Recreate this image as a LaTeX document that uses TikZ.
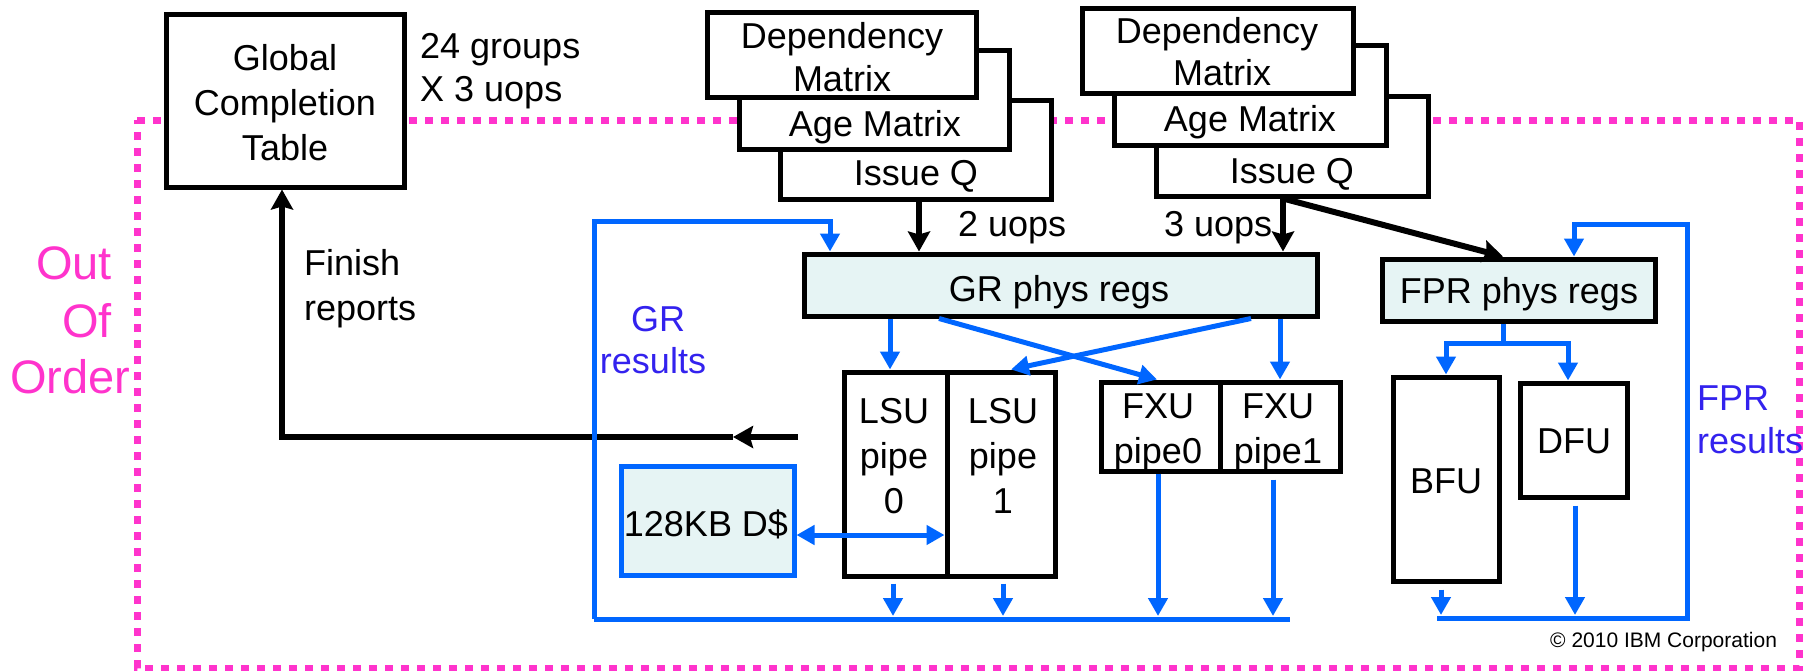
\documentclass[tikz,border=0pt]{standalone}
\usepackage{fontspec}
\setmainfont{Liberation Sans}
\usetikzlibrary{arrows.meta}
\definecolor{pinkc}{RGB}{255,51,204}
\definecolor{bluec}{RGB}{0,102,255}
\definecolor{violetc}{RGB}{51,34,238}
\definecolor{cyanfill}{RGB}{230,244,244}
\begin{document}
\begin{tikzpicture}[x=1pt,y=-1pt,
  blk/.style={draw=black, line width=5pt, fill=white, inner sep=0pt},
  regbox/.style={blk, fill=cyanfill},
  txt/.style={font=\fontsize{36}{43}\selectfont, inner sep=0pt, anchor=base},
  ltxt/.style={txt, anchor=base west},
  kline/.style={line width=6pt, draw=black},
  karrow/.style={kline, -{Stealth[width=22pt,length=20pt,inset=3pt]}},
  bline/.style={line width=5pt, draw=bluec},
  barrow/.style={bline, -{Triangle[width=19pt,length=18pt]}},
  pinkdot/.style={draw=pinkc, line width=7pt, dash pattern=on 8pt off 8pt},
]
\useasboundingbox (0,0) rectangle (1808,670);

% out-of-order frame
\draw[pinkdot] (137,120) -- (1799,120) -- (1799,668) -- (137,668) -- cycle;
\node[font=\fontsize{47}{56}\selectfont, text=pinkc, inner sep=0pt, anchor=base east] (ooo1) at (112,279) {Out};
\node[font=\fontsize{47}{56}\selectfont, text=pinkc, inner sep=0pt, anchor=base east] (ooo2) at (112,337) {Of};
\node[font=\fontsize{47}{56}\selectfont, text=pinkc, inner sep=0pt, anchor=base west] (ooo3) at (10,393) {Order};

% global completion table
\node[blk, minimum width=238pt, minimum height=173pt] (gct) at (285,100.5) {};
\node[txt] (gct1) at (285,70) {Global};
\node[txt] (gct2) at (285,115) {Completion};
\node[txt] (gct3) at (285,160) {Table};
\node[ltxt] (grp1) at (420,58) {24 groups};
\node[ltxt] (grp2) at (420,101) {X 3 uops};

% left issue stack
\node[blk, minimum width=271pt, minimum height=99pt] (lq) at (915.5,149.5) {};
\node[txt] (lqt) at (916,185) {Issue Q};
\node[blk, minimum width=270pt, minimum height=99pt] (lage) at (874,99.5) {};
\node[txt] (lage t) at (875,136) {Age Matrix};
\node[blk, minimum width=269pt, minimum height=85pt] (ldep) at (841.5,54.5) {};
\node[txt] (ldep1) at (842,48) {Dependency};
\node[txt] (ldep2) at (842,91) {Matrix};

% right issue stack
\node[blk, minimum width=272pt, minimum height=100pt] (rq) at (1292,146) {};
\node[txt] (rqt) at (1292,183) {Issue Q};
\node[blk, minimum width=272pt, minimum height=100pt] (rage) at (1250,95) {};
\node[txt] (raget) at (1250,131) {Age Matrix};
\node[blk, minimum width=271pt, minimum height=85pt] (rdep) at (1217.5,50.5) {};
\node[txt] (rdep1) at (1217,43) {Dependency};
\node[txt] (rdep2) at (1222,85) {Matrix};

\node[ltxt] (u2) at (958,236) {2 uops};
\node[ltxt] (u3) at (1164,236) {3 uops};

% register files
\node[regbox, minimum width=513pt, minimum height=62pt] (gr) at (1060.5,285) {};
\node[txt] (grt) at (1059,301) {GR phys regs};
\node[regbox, minimum width=273pt, minimum height=62pt] (fpr) at (1518.5,290) {};
\node[txt] (fprt) at (1519,303) {FPR phys regs};

% execution units
\node[blk, minimum width=103pt, minimum height=204pt] (lsu0) at (895.5,474) {};
\node[blk, minimum width=108pt, minimum height=204pt] (lsu1) at (1001,474) {};
\node[txt] (lsu0a) at (894,423) {LSU};
\node[txt] (lsu0b) at (894,468) {pipe};
\node[txt] (lsu0c) at (894,513) {0};
\node[txt] (lsu1a) at (1003,423) {LSU};
\node[txt] (lsu1b) at (1003,468) {pipe};
\node[txt] (lsu1c) at (1003,513) {1};
\node[blk, minimum width=119pt, minimum height=89pt] (fxu0) at (1160.5,426.5) {};
\node[blk, minimum width=120pt, minimum height=89pt] (fxu1) at (1280,426.5) {};
\node[txt] (fxu0a) at (1158,418) {FXU};
\node[txt] (fxu0b) at (1158,463) {pipe0};
\node[txt] (fxu1a) at (1278,418) {FXU};
\node[txt] (fxu1b) at (1278,463) {pipe1};
\node[draw=bluec, line width=5pt, fill=cyanfill, inner sep=0pt, minimum width=173pt, minimum height=109pt] (dc) at (707.5,520.5) {};
\node[txt] (dct) at (706,536) {128KB D\$};
\node[blk, minimum width=106pt, minimum height=204pt] (bfu) at (1446,479) {};
\node[txt] (bfut) at (1446,493) {BFU};
\node[blk, minimum width=107pt, minimum height=114pt] (dfu) at (1573.5,440) {};
\node[txt] (dfut) at (1574,453) {DFU};

% column coordinates
\coordinate (c890) at (890,0);
\coordinate (c893) at (893,0);
\coordinate (c919) at (919,0);
\coordinate (c939) at (939,0);
\coordinate (c1003) at (1003,0);
\coordinate (c1011) at (1011,0);
\coordinate (c1157) at (1157,0);
\coordinate (c1158) at (1158,0);
\coordinate (c1251) at (1251,0);
\coordinate (c1273) at (1273,0);
\coordinate (c1280) at (1280,0);
\coordinate (c1283) at (1283,0);
\coordinate (c1441) at (1441,0);
\coordinate (c1503) at (1503,0);
\coordinate (c1575) at (1575,0);
\coordinate (y535) at (0,535);

% issue arrows
\draw[karrow] (lq.south -| c919) -- (gr.north -| c919);
\draw[karrow] (rq.south -| c1283) -- (gr.north -| c1283);
\draw[karrow] (rq.south -| c1283) -- (fpr.north -| c1503);

% finish reports
\coordinate (finsrc) at (798,437);
\coordinate (finmid) at (733,437);
\coordinate (finturn) at (282,437);
\draw[karrow] (finsrc) -- (finmid);
\draw[karrow] (finmid) -- (finturn) -- (gct.south -| finturn);
\node[ltxt] (fin1) at (304,275) {Finish};
\node[ltxt] (fin2) at (304,320) {reports};

% GR results bus
\coordinate (grbusL) at (594,619);
\coordinate (grbusR) at (1290,619);
\coordinate (grtopL) at (594,221);
\coordinate (grtopR) at (830,221);
\draw[bline] (grbusL) -- (grbusR);
\draw[barrow] (grbusL) -- (grtopL) -- (grtopR) -- (gr.north -| grtopR);
\node[txt, text=violetc] (grr1) at (658,331) {GR};
\node[txt, text=violetc] (grr2) at (653,373) {results};

% GR read ports
\draw[barrow] (gr.south -| c890) -- (lsu0.north -| c890);
\draw[barrow] (gr.south -| c939) -- (fxu0.north -| c1157);
\draw[barrow] (gr.south -| c1251) -- (lsu1.north -| c1011);
\draw[barrow] (gr.south -| c1280) -- (fxu1.north -| c1280);

% cache
\draw[bline, {Triangle[width=19pt,length=18pt]}-{Triangle[width=19pt,length=18pt]}] (dc.east |- y535) -- (lsu1.west |- y535);

% results to bus
\draw[barrow, shorten <=5pt, shorten >=3pt] (lsu0.south -| c893) -- (grbusL -| c893);
\draw[barrow, shorten <=5pt, shorten >=3pt] (lsu1.south -| c1003) -- (grbusL -| c1003);
\draw[barrow, shorten >=3pt] (fxu0.south -| c1158) -- (grbusL -| c1158);
\draw[barrow, shorten <=6pt, shorten >=3pt] (fxu1.south -| c1273) -- (grbusL -| c1273);

% FPR fan out
\coordinate (fanL) at (1446,343);
\coordinate (fanM) at (1503,343);
\coordinate (fanR) at (1568,343);
\draw[barrow] (fpr.south -| fanM) -- (fanM) -- (fanL) -- (bfu.north -| fanL);
\draw[barrow] (fanM) -- (fanR) -- (dfu.north -| fanR);

% FPR results bus
\coordinate (fpbusL) at (1437,618);
\coordinate (fpbusR) at (1690,618);
\coordinate (fploopB) at (1687,618);
\coordinate (fploopT) at (1687,224);
\coordinate (fploopL) at (1574,224);
\draw[bline] (fpbusL) -- (fpbusR);
\draw[barrow, shorten <=6pt, shorten >=3pt] (bfu.south -| c1441) -- (fpbusL -| c1441);
\draw[barrow, shorten <=6pt, shorten >=3pt] (dfu.south -| c1575) -- (fpbusL -| c1575);
\draw[barrow] (fploopB) -- (fploopT) -- (fploopL) -- (fpr.north -| fploopL);
\node[ltxt, text=violetc] (fpr1) at (1697,410) {FPR};
\node[ltxt, text=violetc] (fpr2) at (1697,453) {results};

\node[font=\fontsize{21}{25}\selectfont, inner sep=0pt, anchor=base west] (copy) at (1550,647) {© 2010 IBM Corporation};
\end{tikzpicture}
\end{document}
